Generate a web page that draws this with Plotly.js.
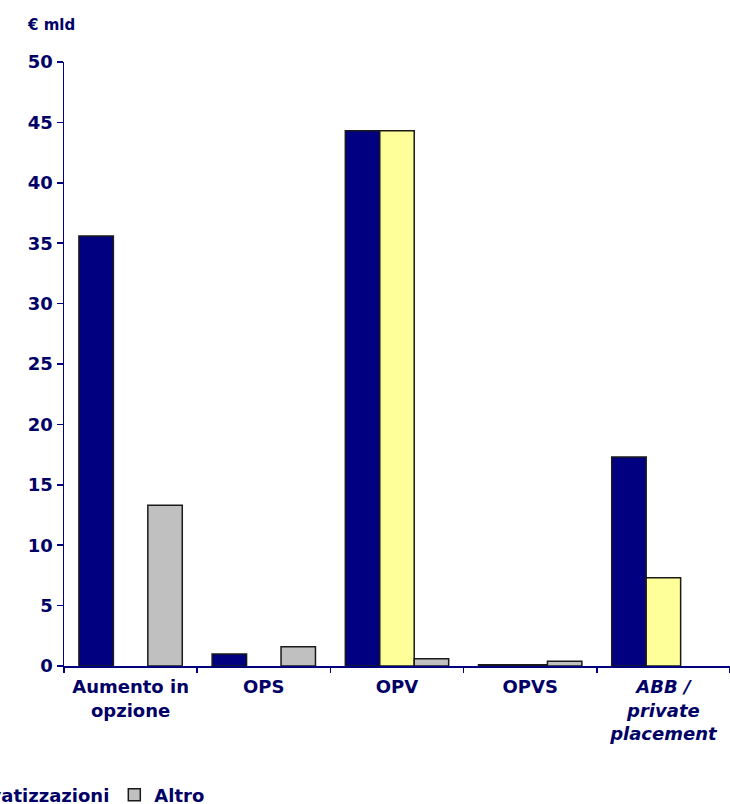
<!DOCTYPE html>
<html>
<head>
<meta charset="utf-8">
<script src="https://cdn.plot.ly/plotly-3.0.1.min.js"></script>
<style>
  html, body { margin: 0; padding: 0; background: #ffffff; }
  #chart { width: 730px; height: 804px; }
</style>
</head>
<body>
<div id="chart"></div>
<script>
// Offerte di azioni per tipologia (€ mld)
const categories = [
  "<b>Aumento in</b><br><b>opzione</b>",
  "<b>OPS</b>",
  "<b>OPV</b>",
  "<b>OPVS</b>",
  "<b><i>ABB /</i></b><br><b><i>private</i></b><br><b><i>placement</i></b>"
];
const seriesNames = ["Totale", "Privatizzazioni", "Altro"];
const totale          = [35.6, 1.0, 44.3, 0.1, 17.3];
const privatizzazioni = [0,    0,   44.3, 0.1, 7.3];
const altro           = [13.3, 1.6, 0.6,  0.4, 0];
const yTicks = [0, 5, 10, 15, 20, 25, 30, 35, 40, 45, 50];

const navy = "#000080";
const textColor = "#000066";
const fontFamily = "'DejaVu Sans', Verdana, sans-serif";

const traces = [
  { name: seriesNames[0], y: totale, color: navy },
  { name: seriesNames[1], y: privatizzazioni, color: "#ffff99" },
  { name: seriesNames[2], y: altro, color: "#c0c0c0" }
].map(s => ({
  type: "bar",
  name: "<b>" + s.name + "</b>",
  x: categories,
  y: s.y,
  marker: {
    color: s.color,
    // empty categories get no outline, so nothing is drawn on the baseline
    line: { color: "#1a1a1a", width: s.y.map(v => (v > 0 ? 1.5 : 0)) }
  },
  hoverinfo: "skip"
}));

const layout = {
  width: 730,
  height: 804,
  margin: { l: 64, r: 0, t: 62, b: 138, autoexpand: false },
  paper_bgcolor: "#ffffff",
  plot_bgcolor: "#ffffff",
  barmode: "group",
  bargap: 0.224,
  bargroupgap: 0,
  font: { family: fontFamily, color: textColor, size: 18 },
  xaxis: {
    type: "category",
    showline: true,
    linecolor: navy,
    linewidth: 1.5,
    ticks: "outside",
    tickson: "boundaries",
    ticklen: 5,
    tickcolor: navy,
    tickwidth: 1.5,
    showgrid: false,
    ticklabelstandoff: 4,
    tickfont: { family: fontFamily, size: 18, color: textColor },
    fixedrange: true
  },
  yaxis: {
    range: [0, 50],
    tickvals: yTicks,
    ticktext: yTicks.map(v => "<b>" + v + "</b>"),
    showline: true,
    linecolor: navy,
    linewidth: 1.5,
    ticks: "outside",
    ticklen: 6,
    tickcolor: navy,
    tickwidth: 1.5,
    showgrid: false,
    zeroline: false,
    tickfont: { family: fontFamily, size: 18, color: textColor },
    fixedrange: true
  },
  showlegend: true,
  legend: {
    orientation: "h",
    xref: "paper",
    yref: "paper",
    x: -0.374,
    xanchor: "left",
    y: -0.2136,
    yanchor: "middle",
    font: { family: fontFamily, size: 18, color: textColor },
    bgcolor: "rgba(0,0,0,0)"
  },
  annotations: [
    {
      text: "<b>€ mld</b>",
      xref: "paper", yref: "paper",
      x: -0.059, y: 1.062,
      xanchor: "left", yanchor: "middle",
      showarrow: false,
      font: { family: fontFamily, size: 15, color: textColor }
    }
  ]
};

Plotly.newPlot("chart", traces, layout, { displayModeBar: false, staticPlot: true });
</script>
</body>
</html>
